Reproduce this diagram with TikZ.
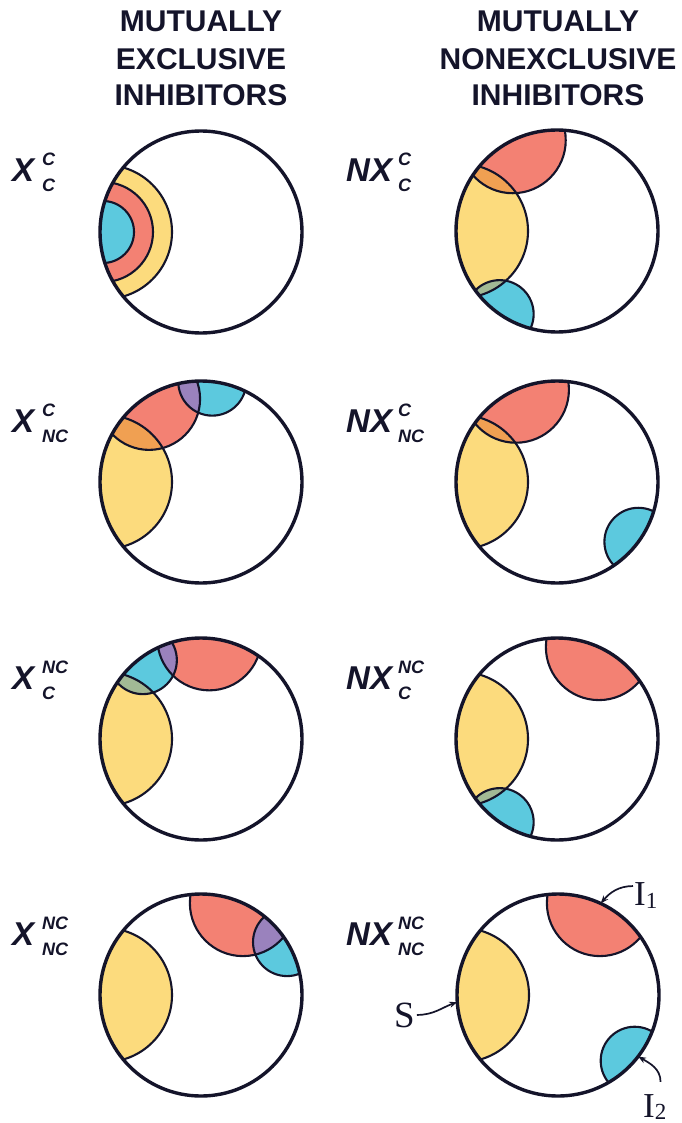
\documentclass[tikz,border=0pt]{standalone}
\usepackage{fontspec}
\setmainfont{Liberation Sans}
\newfontfamily\serifface{Liberation Serif}
\usetikzlibrary{arrows.meta,calc}
\definecolor{ink}{HTML}{14142A}
\definecolor{ycol}{HTML}{FCDB7D}
\definecolor{rcol}{HTML}{F38173}
\definecolor{bcol}{HTML}{5CC9DE}
\definecolor{ocol}{HTML}{F0A052}
\definecolor{gcol}{HTML}{A2B995}
\definecolor{pcol}{HTML}{9A82BD}
\tikzset{
  mainc/.style={line width=3.4pt, draw=ink},
  arcl/.style={line width=2.1pt, draw=ink},
  hdr/.style={font=\fontsize{30}{30}\selectfont\bfseries, text=ink, inner sep=0pt, anchor=base},
  lbig/.style={font=\fontsize{33}{33}\selectfont\bfseries\itshape, text=ink, inner sep=0pt, anchor=base west},
  lsmall/.style={font=\fontsize{18}{18}\selectfont\bfseries\itshape, text=ink, inner sep=0pt, anchor=base west},
  tag/.style={font=\serifface\fontsize{37}{37}\selectfont, text=ink, inner sep=0pt, anchor=base west},
  ptr/.style={-{Stealth[length=8pt,width=6pt]}, line width=1.7pt, draw=ink}
}
\newcommand\ovSA[1]{\begin{scope}\clip (S) circle (67); \fill[ocol] (A) circle (#1);\end{scope}}
\newcommand\ovSB[1]{\begin{scope}\clip (S) circle (67); \fill[gcol] (B) circle (#1);\end{scope}}
\newcommand\ovAB[2]{\begin{scope}\clip (A) circle (#1); \fill[pcol] (B) circle (#2);\end{scope}}
% #1 cx, #2 cy, #3 A angle, #4 A dist, #5 A radius, #6 B angle, #7 B dist, #8 B radius, #9 overlaps
\newcommand\panel[9]{%
\begin{scope}[shift={(#1,#2)}]
  \coordinate (S) at (180:96);
  \coordinate (A) at (#3:#4);
  \coordinate (B) at (#6:#7);
  \begin{scope}
    \clip (0,0) circle (101);
    \fill[ycol] (S) circle (67);
    \fill[rcol] (A) circle (#5);
    \fill[bcol] (B) circle (#8);
    #9
    \draw[arcl] (S) circle (67);
    \draw[arcl] (A) circle (#5);
    \draw[arcl] (B) circle (#8);
  \end{scope}
  \draw[mainc] (0,0) circle (101);
\end{scope}}
\begin{document}
\begin{tikzpicture}[x=1pt,y=-1pt]
\useasboundingbox[fill=white] (0,0) rectangle (681,1123);

% headers
\node[hdr] (hl1) at (201,32) {MUTUALLY};
\node[hdr] (hl2) at (201,70) {EXCLUSIVE};
\node[hdr] (hl3) at (201,106) {INHIBITORS};
\node[hdr] (hr1) at (558,32) {MUTUALLY};
\node[hdr] (hr2) at (558,70) {NONEXCLUSIVE};
\node[hdr] (hr3) at (558,106) {INHIBITORS};

% panels
\panel{201}{232}{180}{98}{50}{180}{98}{31}{}
\panel{557}{231}{-116}{101}{53}{124.6}{101}{34}{\ovSA{53}\ovSB{34}}
\panel{201}{482}{-122}{98}{51}{-83.6}{101}{34}{\ovSA{51}\ovAB{51}{34}}
\panel{557}{482}{-114}{101}{53}{36.3}{101}{34}{\ovSA{53}}
\panel{201}{739}{-85.3}{101}{52}{-126.4}{98}{34}{\ovSB{34}\ovAB{52}{34}}
\panel{557}{739}{-65.5}{101}{53}{124.6}{101}{34}{\ovSB{34}}
\panel{201}{995}{-65.5}{101}{53}{-31.6}{101}{34}{\ovAB{53}{34}}
\panel{558}{995}{-65.5}{101}{53}{40.6}{101}{34}{}

% row labels
\node[lbig] (x1) at (12,182) {X};
\node[lsmall] (x1u) at (42,166) {C};
\node[lsmall] (x1d) at (42,192) {C};
\node[lbig] (n1) at (346,182) {NX};
\node[lsmall] (n1u) at (398,166) {C};
\node[lsmall] (n1d) at (398,192) {C};

\node[lbig] (x2) at (12,432) {X};
\node[lsmall] (x2u) at (42,416) {C};
\node[lsmall] (x2d) at (42,442) {NC};
\node[lbig] (n2) at (346,432) {NX};
\node[lsmall] (n2u) at (398,416) {C};
\node[lsmall] (n2d) at (398,442) {NC};

\node[lbig] (x3) at (12,689) {X};
\node[lsmall] (x3u) at (42,673) {NC};
\node[lsmall] (x3d) at (42,699) {C};
\node[lbig] (n3) at (346,689) {NX};
\node[lsmall] (n3u) at (398,673) {NC};
\node[lsmall] (n3d) at (398,699) {C};

\node[lbig] (x4) at (12,945) {X};
\node[lsmall] (x4u) at (42,929) {NC};
\node[lsmall] (x4d) at (42,955) {NC};
\node[lbig] (n4) at (346,945) {NX};
\node[lsmall] (n4u) at (398,929) {NC};
\node[lsmall] (n4d) at (398,955) {NC};

% S, I1, I2 pointers
\coordinate (tS) at ($(558,995)+(176:101)$);
\coordinate (tI1) at ($(558,995)+(-65:101)$);
\coordinate (tI2) at ($(558,995)+(37.5:101)$);
\node[tag] (lS) at (394,1027) {S};
\node[tag, font=\serifface\fontsize{35}{35}\selectfont] (lI1) at (634,905) {I\raisebox{-3pt}{\fontsize{23}{23}\selectfont 1}};
\node[tag, font=\serifface\fontsize{35}{35}\selectfont] (lI2) at (643,1117) {I\raisebox{-2pt}{\fontsize{23}{23}\selectfont 2}};
\draw[ptr] ([xshift=2pt]lS.east) to[out=0,in=200] (tS);
\draw[ptr] ([yshift=9pt,xshift=-1pt]lI1.west) to[out=180,in=50] (tI1);
\draw[ptr] ([xshift=-6pt,yshift=12pt]lI2.north east) to[out=90,in=-30] (tI2);
\end{tikzpicture}
\end{document}
